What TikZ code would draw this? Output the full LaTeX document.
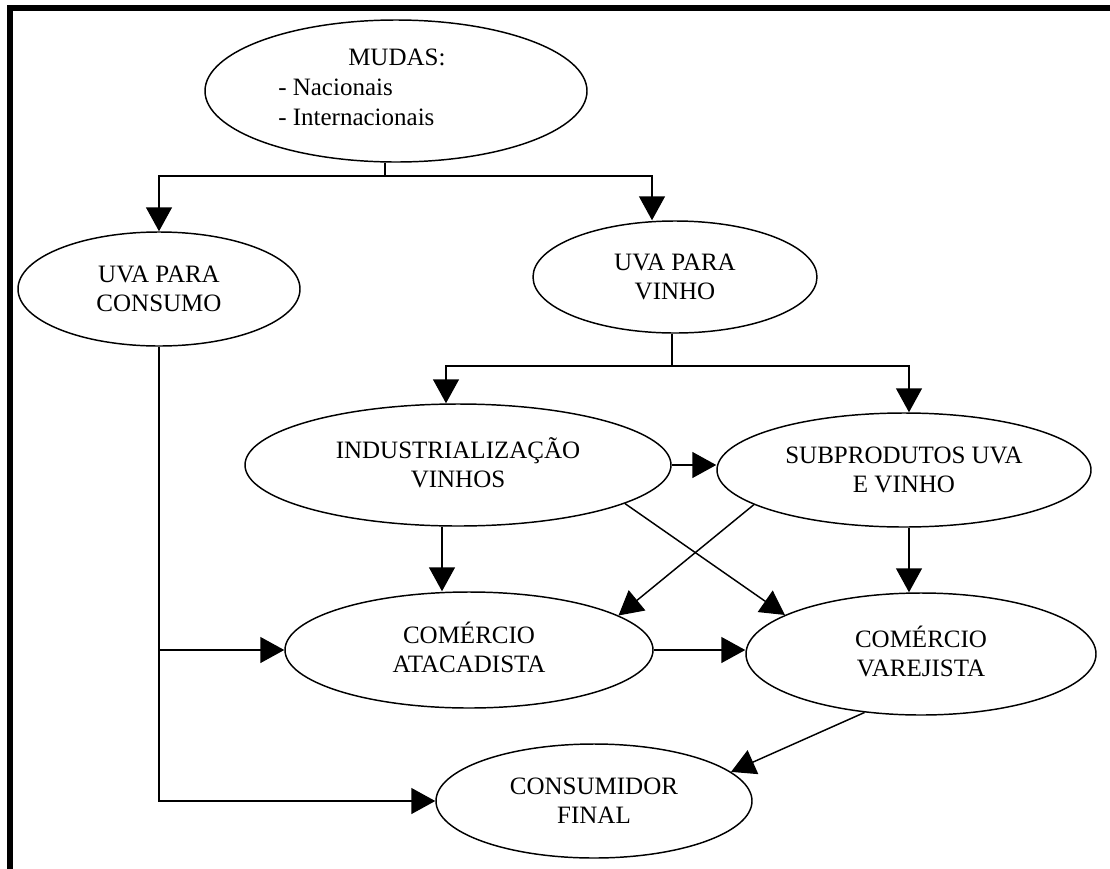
\documentclass[tikz,border=0pt]{standalone}
\usepackage{fontspec}
\setmainfont{Liberation Serif}
\usetikzlibrary{shapes.geometric,arrows.meta,calc}
\newcommand\twol[2]{\rule{0pt}{12.75pt}\smash{#1}\\\smash{#2}\rule[-1.5pt]{0pt}{1.5pt}}
\tikzset{
  ell/.style={ellipse, draw, line width=1.1pt, inner sep=0pt,
    font=\fontsize{18.75pt}{21.75pt}\selectfont, align=center},
  conn/.style={line width=1.1pt},
  arr/.style={conn, -{Triangle[length=18pt,width=19.5pt]}},
}
\begin{document}
\begin{tikzpicture}[x=0.75pt,y=-0.75pt]
\useasboundingbox (0,0) rectangle (1110,868);
\fill[white] (0,0) rectangle (1110,868);
% frame
\draw[line width=4.5pt, line join=miter] (10,875) -- (10,8) -- (1120,8);

% nodes
\node[ell, minimum width=286.5pt, minimum height=106.5pt] (mudas) at (396,91) {};
\node[anchor=north west, inner sep=0pt, align=left,
  font=\fontsize{18.75pt}{22.5pt}\selectfont] (mudastxt) at (278,48)
  {\rule{0pt}{12.75pt}\hspace*{52.5pt}\smash{MUDAS:}\\\smash{- Nacionais}\\\smash{- Internacionais}};
\node[ell, minimum width=211.5pt, minimum height=85.5pt] (uvac) at (159,289) {\twol{UVA PARA}{CONSUMO}};
\node[ell, minimum width=213pt, minimum height=84pt] (uvav) at (675,277) {\twol{UVA PARA}{VINHO}};
\node[ell, minimum width=319.5pt, minimum height=91.5pt] (ind) at (458,465) {\twol{INDUSTRIALIZAÇÃO}{VINHOS}};
\node[ell, minimum width=280.5pt, minimum height=85.5pt] (sub) at (904,470) {\twol{SUBPRODUTOS UVA}{E VINHO}};
\node[ell, minimum width=276pt, minimum height=87pt] (atac) at (469,650) {\twol{COMÉRCIO}{ATACADISTA}};
\node[ell, minimum width=262.5pt, minimum height=91.5pt] (var) at (921,654) {\twol{COMÉRCIO}{VAREJISTA}};
\node[ell, minimum width=237pt, minimum height=85.5pt] (cons) at (594,801) {\twol{CONSUMIDOR}{FINAL}};

% helper coordinates
\coordinate (j1) at (385,176);
\coordinate (j2) at (672,366);
\coordinate (x652) at (652,0);
\coordinate (x446) at (446,0);
\coordinate (x909) at (909,0);
\coordinate (x442) at (442,0);

% connectors
\draw[conn] (mudas.south -| j1) -- (j1);
\draw[arr] (j1) -| (uvac.north);
\draw[arr] (j1) -| (uvav.north -| x652);

\draw[conn] (uvav.south -| j2) -- (j2);
\draw[arr] (j2) -| (ind.north -| x446);
\draw[arr] (j2) -| (sub.north -| x909);

\draw[arr] (ind.east) -- (ind.east -| sub.west);
\draw[arr] (ind.south -| x442) -- (atac.north -| x442);
\draw[arr] (ind.-13) -- (var.164);
\draw[arr] (sub.-167.75) -- (atac.13);
\draw[arr] (sub.south -| x909) -- (var.north -| x909);
\draw[arr] (atac.east) -- (atac.east -| var.west);

\draw[arr] (uvac.south) |- (cons.west);
\draw[arr] (uvac.south |- atac.west) -- (atac.west);
\draw[arr] (var.-134.5) -- (cons.12);
\end{tikzpicture}
\end{document}
